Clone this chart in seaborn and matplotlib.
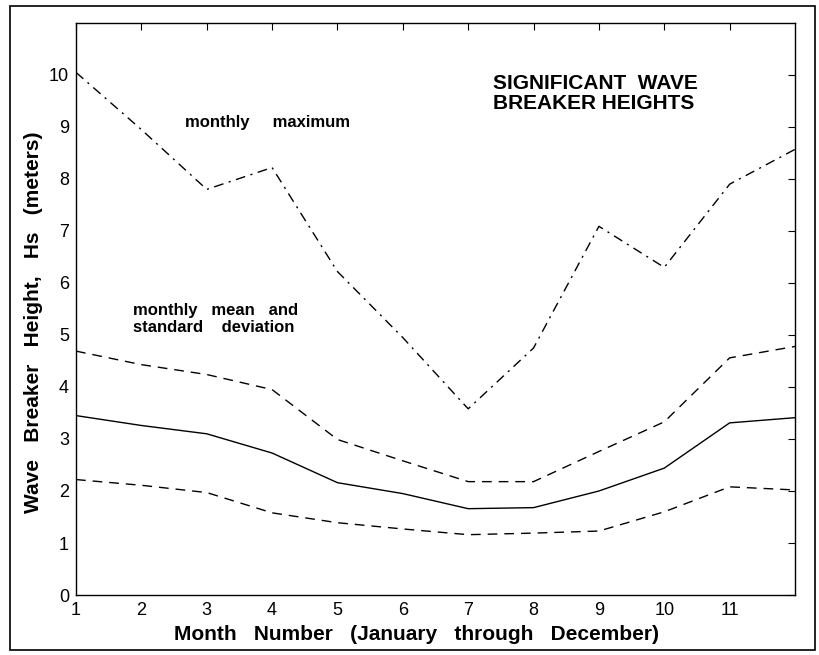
import pandas as pd
import seaborn as sns
import matplotlib.pyplot as plt
from matplotlib.patches import Rectangle

# ===== DATA =====
months = [1, 2, 3, 4, 5, 6, 7, 8, 9, 10, 11, 12]
monthly_max = [10.05, 8.95, 7.80, 8.22, 6.22, 4.95, 3.58, 4.75, 7.09, 6.30, 7.90, 8.57]
mean_plus_sd = [4.69, 4.43, 4.24, 3.95, 2.99, 2.58, 2.18, 2.18, 2.76, 3.33, 4.56, 4.78]
monthly_mean = [3.45, 3.26, 3.10, 2.73, 2.16, 1.95, 1.66, 1.68, 2.00, 2.44, 3.31, 3.41]
mean_minus_sd = [2.22, 2.11, 1.97, 1.58, 1.39, 1.27, 1.16, 1.19, 1.23, 1.60, 2.08, 2.02]
x_ticks = [1, 2, 3, 4, 5, 6, 7, 8, 9, 10, 11]
y_ticks = [0, 1, 2, 3, 4, 5, 6, 7, 8, 9, 10]

df = pd.DataFrame({
    'month': months,
    'max': monthly_max,
    'upper': mean_plus_sd,
    'mean': monthly_mean,
    'lower': mean_minus_sd,
})

sns.set_style("white")
plt.rcParams['font.family'] = ['Liberation Sans', 'DejaVu Sans']
plt.rcParams['text.color'] = 'black'
plt.rcParams['axes.labelcolor'] = 'black'
plt.rcParams['xtick.color'] = 'black'
plt.rcParams['ytick.color'] = 'black'

fig = plt.figure(figsize=(8.19, 6.55), dpi=100)
ax = fig.add_axes([0.0928, 0.0916, 0.8779, 0.8733])

# outer frame around the whole figure
fig.patches.append(Rectangle((10 / 819, 5 / 655), 805 / 819, 644 / 655,
                             transform=fig.transFigure, fill=False,
                             edgecolor='black', linewidth=1.2))

sns.lineplot(data=df, x='month', y='max', ax=ax, color='black', linewidth=1.0)
ax.lines[-1].set_dashes([7, 4, 1.5, 4])
sns.lineplot(data=df, x='month', y='upper', ax=ax, color='black', linewidth=1.0)
ax.lines[-1].set_dashes([7, 5])
sns.lineplot(data=df, x='month', y='mean', ax=ax, color='black', linewidth=1.0)
sns.lineplot(data=df, x='month', y='lower', ax=ax, color='black', linewidth=1.0)
ax.lines[-1].set_dashes([7, 5])

ax.set_xlim(1, 12)
ax.set_ylim(0, 11)
ax.set_xticks(x_ticks)
ax.set_yticks(y_ticks)
ax.tick_params(direction='in', length=5, width=0.8, top=True, right=True,
               labelsize=13, pad=5)
for spine in ax.spines.values():
    spine.set_linewidth(1.0)
    spine.set_color('black')

ax.set_xlabel('Month   Number   (January   through   December)', fontsize=15,
              fontweight='bold')
ax.set_ylabel('Wave   Breaker   Height,   Hs   (meters)', fontsize=15,
              fontweight='bold')
ax.xaxis.set_label_coords(0.473, -0.052)
ax.yaxis.set_label_coords(-0.046, 0.477)

ax.text(2.67, 9.09, 'monthly     maximum', fontsize=12, fontweight='bold', va='center')
ax.text(1.87, 5.31, 'monthly   mean   and\nstandard    deviation', fontsize=12,
        fontweight='bold', va='center', linespacing=1.15)
ax.text(7.38, 9.64, 'SIGNIFICANT  WAVE\nBREAKER HEIGHTS', fontsize=15,
        fontweight='bold', va='center', linespacing=1.1)

fig.savefig('out.png', dpi=100)
